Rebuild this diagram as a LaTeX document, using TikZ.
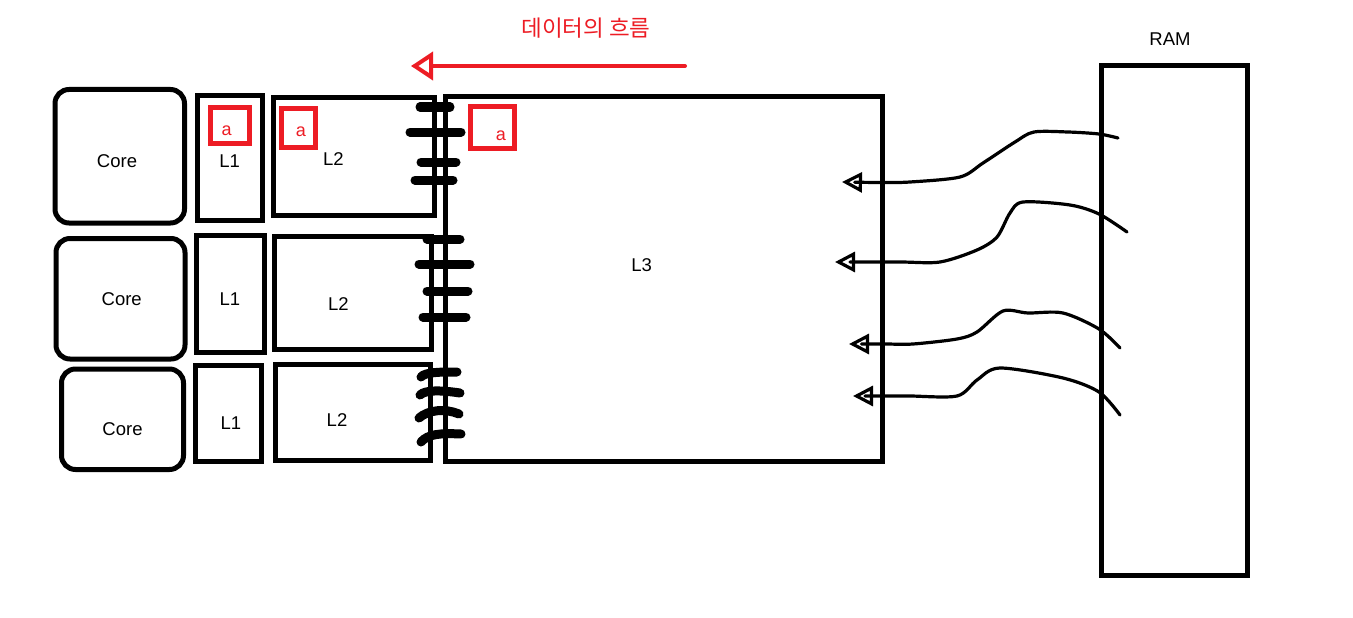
\documentclass[tikz,border=0pt]{standalone}
\usepackage{fontspec}
\setmainfont{Liberation Sans}
\newfontfamily\krfont{Noto Sans CJK KR}
\usetikzlibrary{arrows.meta,fit}
\definecolor{pred}{HTML}{ED1C24}
\begin{document}
\begin{tikzpicture}[x=1pt,y=-1pt,
  box/.style={draw=black, line width=5pt, inner sep=0pt, outer sep=0pt},
  corebox/.style={box, rounded corners=14pt},
  redbox/.style={draw=pred, line width=5pt, inner sep=0pt, outer sep=0pt},
  lbl/.style={inner sep=0pt, font=\fontsize{18.5}{22}\selectfont},
  alabel/.style={inner sep=0pt, text=pred, font=\fontsize{18}{20}\selectfont},
  bus/.style={draw=black, line width=9pt, line cap=round},
  wire/.style={draw=black, line width=3.2pt, line cap=round, line join=round,
    -{Triangle[open, length=20pt, width=20pt, line width=3.2pt]}},
  flow/.style={draw=pred, line width=4pt, line cap=round,
    -{Triangle[open, length=22pt, width=28pt, line width=4pt]}}
]
\useasboundingbox[fill=white] (0,0) rectangle (1353,618);

% cores
\node[corebox, fit={(55,89.5) (184.5,223)}] (core1) {};
\node[corebox, fit={(56,238.5) (185,359)}] (core2) {};
\node[corebox, fit={(61.5,369) (183.5,469.5)}] (core3) {};
\node[lbl] (core1t) at (117,161.5) {Core};
\node[lbl] (core2t) at (121.7,299) {Core};
\node[lbl] (core3t) at (122.5,429) {Core};

% L1
\node[box, fit={(197.5,96) (262.5,220)}] (l1a) {};
\node[box, fit={(196.7,235.7) (264,352.5)}] (l1b) {};
\node[box, fit={(195,365.7) (261.5,461)}] (l1c) {};
\node[lbl] (l1at) at (229.7,161) {L1};
\node[lbl] (l1bt) at (230,299) {L1};
\node[lbl] (l1ct) at (231,423) {L1};

% L2
\node[box, fit={(273.5,97.5) (434,215)}] (l2a) {};
\node[box, fit={(274.7,236.7) (431.7,349.3)}] (l2b) {};
\node[box, fit={(275,364) (430.3,460)}] (l2c) {};
\node[lbl] (l2at) at (333.3,159) {L2};
\node[lbl] (l2bt) at (338.3,304) {L2};
\node[lbl] (l2ct) at (337,420) {L2};

% L3
\node[box, fit={(445.5,97) (882,461.5)}] (l3) {};
\node[lbl] (l3t) at (641.7,265) {L3};

% RAM
\node[box, fit={(1101,66) (1247.5,575)}] (ram) {};
\node[lbl] (ramt) at (1170,39.5) {RAM};

% red boxes with a
\node[redbox, fit={(210.8,107.5) (249.2,143.5)}] (ra1) {};
\node[alabel] (ra1t) at (226.7,131) {a};
\node[redbox, fit={(281.5,108.5) (315.2,147.5)}] (ra2) {};
\node[alabel] (ra2t) at (301,131.7) {a};
\node[redbox, fit={(470.8,106.5) (514.2,148.5)}] (ra3) {};
\node[alabel] (ra3t) at (500.8,135.5) {a};

% data flow
\node[inner sep=0pt, text=pred, font=\krfont\fontsize{22.5}{26}\selectfont] (flowt) at (586,28) {데이터의 흐름};
\coordinate (fs) at (685,66);
\coordinate (fe) at (411,66);
\draw[flow] (fs) -- (fe);

% bus lines between L2 and L3
\draw[bus] (420,107) -- (450,107);
\draw[bus] (410,132) -- (461,132);
\draw[bus] (421,162) -- (456,162);
\draw[bus] (415,180) -- (453,180);
\draw[bus] (427,239) -- (460,239);
\draw[bus] (419,264) -- (470,264);
\draw[bus] (427,291) -- (468,291);
\draw[bus] (423,317) -- (466,317);
\draw[bus] (421,377) .. controls (425,372) and (440,372) .. (457,372);
\draw[bus] (420,395) .. controls (425,390) and (440,390) .. (460,393);
\draw[bus] (419,418) .. controls (428,410) and (445,408) .. (459,414);
\draw[bus] (421,442) .. controls (428,434) and (440,433) .. (461,434);

% wires from RAM into L3
\coordinate (r1) at (1118,138);
\coordinate (t1) at (842,182);
\coordinate (r2) at (1127,232);
\coordinate (t2) at (835,262);
\coordinate (r3) at (1120,348);
\coordinate (t3) at (849,344);
\coordinate (r4) at (1120,415);
\coordinate (t4) at (853,396);
\draw[wire] plot[smooth, tension=0.5] coordinates {(r1) (1099,134) (1068,132) (1034,132) (1015,142) (983,163) (960,177) (910,182) (880,182.5) (t1)};
\draw[wire] plot[smooth, tension=0.5] coordinates {(r2) (1099,214) (1070,205) (1023,202) (1010,213) (997,237) (977,250) (940,262) (900,262) (t2)};
\draw[wire] plot[smooth, tension=0.5] coordinates {(r3) (1099,329) (1063,313) (1028,313) (1003,311) (977,332) (957,339) (913,344) (885,344) (t3)};
\draw[wire] plot[smooth, tension=0.5] coordinates {(r4) (1099,392) (1063,378) (1000,368) (977,380) (957,396) (910,396) (885,396) (t4)};
\end{tikzpicture}
\end{document}
